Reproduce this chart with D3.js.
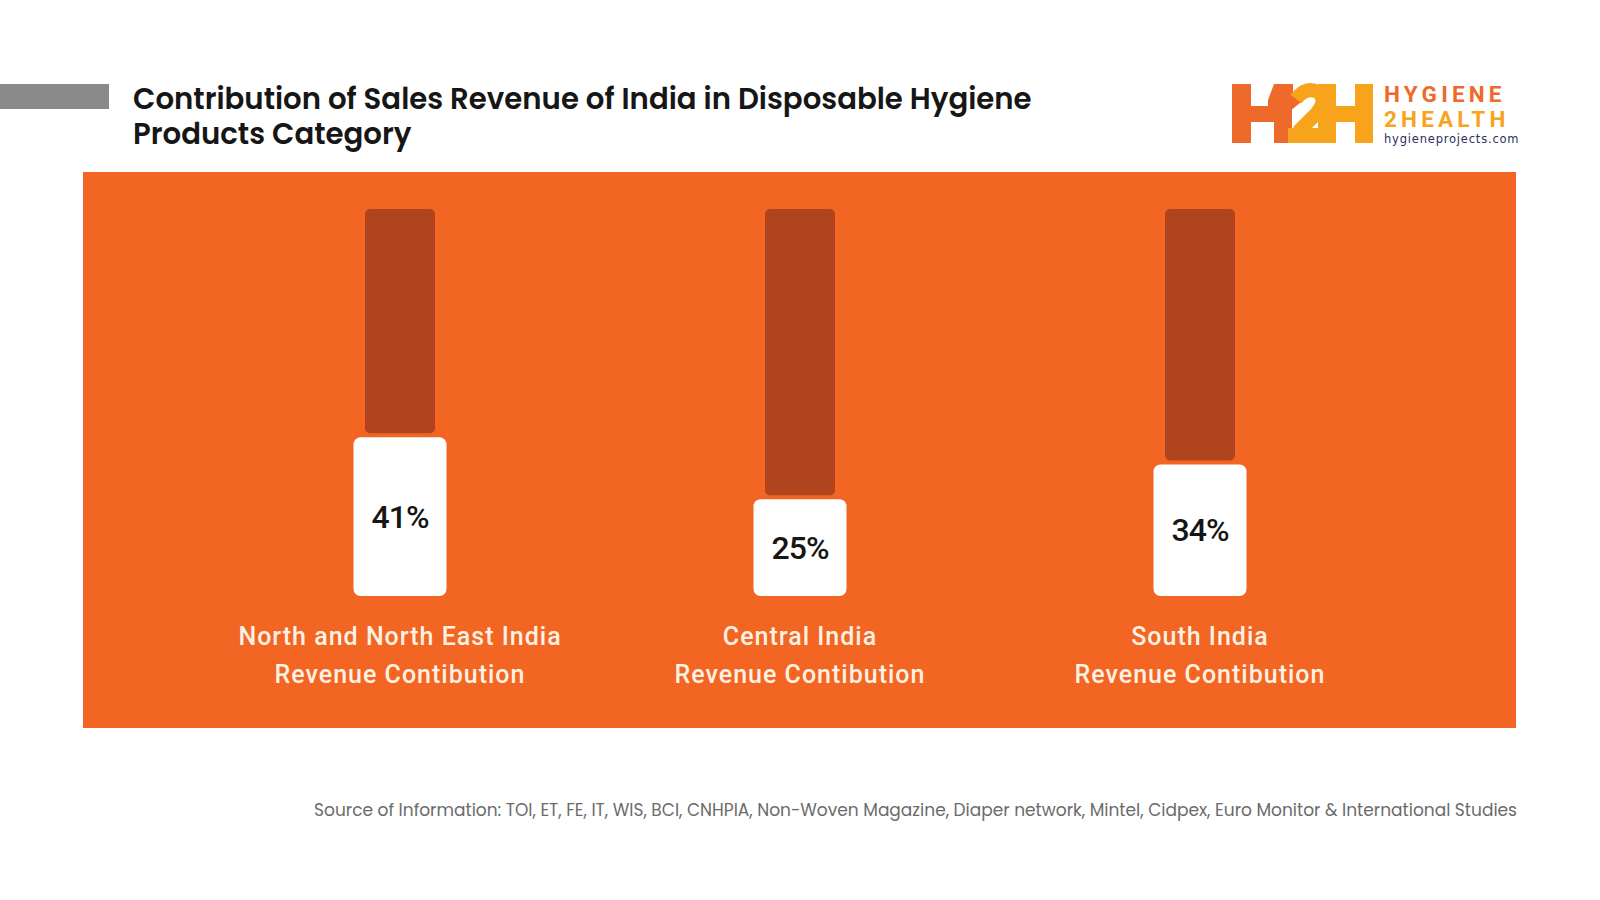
<!DOCTYPE html>
<html>
<head>
<meta charset="utf-8">
<script src="https://cdn.jsdelivr.net/npm/d3@7"></script>
<style>
html,body{margin:0;padding:0;background:#fff;}
svg{display:block;}
</style>
</head>
<body>
<svg id="chart" width="1600" height="900"></svg>
<script>
// ---- data ----
const titleLines = ["Contribution of Sales Revenue of India in Disposable Hygiene", "Products Category"];
const regions = ["North and North East India", "Central India", "South India"];
const labelSecondLine = ["Revenue Contibution", "Revenue Contibution", "Revenue Contibution"];
const shares = [41, 25, 34];
const sourceText = "Source of Information: TOI, ET, FE, IT, WIS, BCI, CNHPIA, Non-Woven Magazine, Diaper network, Mintel, Cidpex, Euro Monitor & International Studies";

// ---- style ----
const ORANGE = "#f26522", DARK = "#b0441f", CREAM = "#fdf1e3";
const svg = d3.select("#chart");

// gray accent bar
svg.append("rect").attr("x", 0).attr("y", 84).attr("width", 109).attr("height", 25).attr("fill", "#8a8a8a");

// title
titleLines.forEach((t, i) => svg.append("text").attr("x", 133).attr("y", 109 + i * 35)
  .attr("font-family", "Poppins, 'Open Sans', sans-serif").attr("font-weight", 600)
  .attr("font-size", 29.2).attr("fill", "#161616").text(t));

// logo
const logo = svg.append("g");
const LO = "#ee6a2a", LY = "#f7a31c";
// first H (orange)
logo.append("rect").attr("x", 1232).attr("y", 84).attr("width", 19).attr("height", 59).attr("fill", LO);
logo.append("rect").attr("x", 1232).attr("y", 106).attr("width", 60).attr("height", 16).attr("fill", LO);
logo.append("rect").attr("x", 1274).attr("y", 118).attr("width", 18).attr("height", 25).attr("fill", LO);
logo.append("path").attr("d", "M1274,84 L1293,84 L1293,94 L1278,112 L1268,112 L1268,100 Z").attr("fill", LO);
logo.append("path").attr("d", "M1280,112 L1300,96").attr("stroke", LO).attr("stroke-width", 11)
  .attr("stroke-linecap", "round").attr("fill", "none");
// the "2" (yellow)
logo.append("path").attr("d", "M1296,99 Q1306,86 1318,92 Q1328,100 1316,114 L1298,132")
  .attr("stroke", LY).attr("stroke-width", 14).attr("fill", "none");
logo.append("rect").attr("x", 1288).attr("y", 128).attr("width", 40).attr("height", 15).attr("fill", LY);
// second H (yellow)
logo.append("rect").attr("x", 1318).attr("y", 84).attr("width", 18).attr("height", 59).attr("fill", LY);
logo.append("rect").attr("x", 1318).attr("y", 106).attr("width", 55).attr("height", 16).attr("fill", LY);
logo.append("rect").attr("x", 1355).attr("y", 84).attr("width", 18).attr("height", 59).attr("fill", LY);
logo.append("text").attr("x", 1384).attr("y", 102).attr("font-family", "Roboto, sans-serif").attr("font-weight", 700)
  .attr("font-size", 22.5).attr("letter-spacing", 4.2).attr("fill", LO).text("HYGIENE");
logo.append("text").attr("x", 1384).attr("y", 127).attr("font-family", "Roboto, sans-serif").attr("font-weight", 700)
  .attr("font-size", 22.5).attr("letter-spacing", 4.2).attr("fill", LY).text("2HEALTH");
logo.append("text").attr("x", 1384).attr("y", 143).attr("font-family", "'DejaVu Sans', sans-serif")
  .attr("font-size", 11.5).attr("letter-spacing", 0.8).attr("fill", "#2b2f5e").text("hygieneprojects.com");

// orange panel
const panel = {x: 83, y: 172, w: 1433, h: 556};
svg.append("rect").attr("x", panel.x).attr("y", panel.y).attr("width", panel.w).attr("height", panel.h).attr("fill", ORANGE);

// scales
const x = d3.scalePoint().domain(regions).range([400, 1200]);
const y = d3.scaleLinear().domain([0, 100]).range([596, 209]);
const trackW = 70, boxW = 93;

const g = svg.append("g");
const bars = g.selectAll("g.bar").data(regions.map((r, i) => ({r, v: shares[i], l2: labelSecondLine[i]})))
  .join("g").attr("class", "bar").attr("transform", d => `translate(${x(d.r)},0)`);

// dark track
bars.append("rect").attr("x", -trackW / 2).attr("y", y(100)).attr("width", trackW)
  .attr("height", d => y(d.v) - y(100) - 4).attr("rx", 5).attr("fill", DARK);
// white value box
bars.append("rect").attr("x", -boxW / 2).attr("y", d => y(d.v)).attr("width", boxW)
  .attr("height", d => y(0) - y(d.v)).attr("rx", 7).attr("fill", "#fff");
// value labels
bars.append("text").attr("text-anchor", "middle").attr("dominant-baseline", "central")
  .attr("y", d => (y(d.v) + y(0)) / 2)
  .attr("font-family", "Roboto, sans-serif").attr("font-weight", 500).attr("font-size", 32)
  .attr("letter-spacing", -1).attr("fill", "#161616")
  .text(d => d.v + "%");
// category labels
const lab = bars.append("text").attr("text-anchor", "middle")
  .attr("font-family", "Roboto, sans-serif").attr("font-weight", 500).attr("font-size", 25)
  .attr("letter-spacing", 1).attr("fill", CREAM);
lab.append("tspan").attr("x", 0).attr("y", 645).text(d => d.r);
lab.append("tspan").attr("x", 0).attr("y", 683).text(d => d.l2);

// source
svg.append("text").attr("x", 1517).attr("y", 816).attr("text-anchor", "end")
  .attr("font-family", "Poppins, 'Open Sans', sans-serif").attr("font-size", 17).attr("fill", "#6b6b6b")
  .text(sourceText);
</script>
</body>
</html>
